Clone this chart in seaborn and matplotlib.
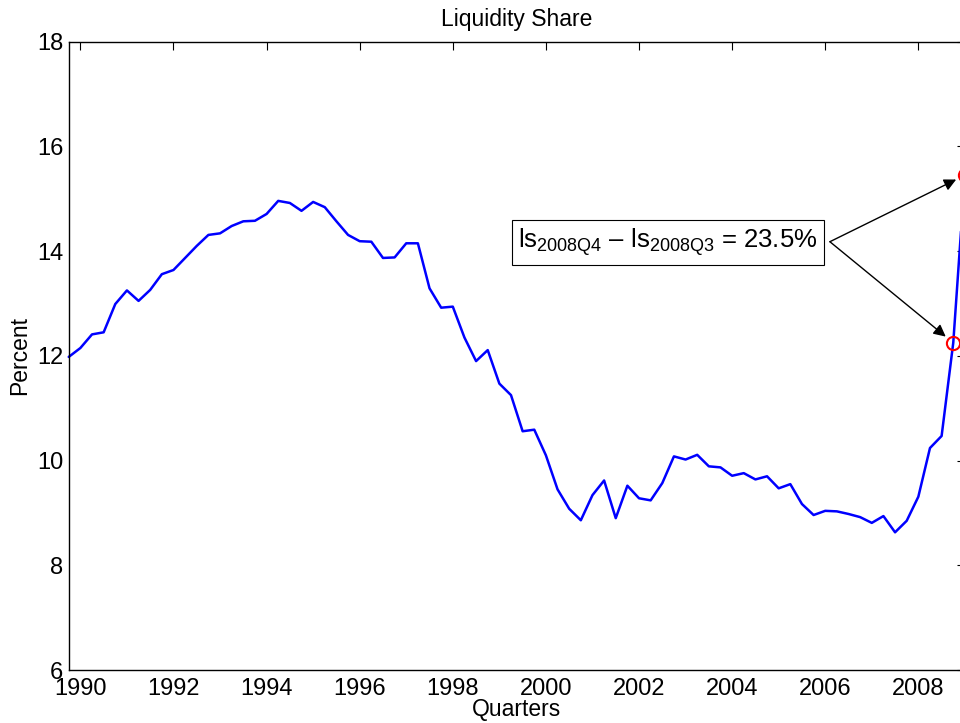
import matplotlib
matplotlib.use('Agg')
import matplotlib.pyplot as plt
import numpy as np
import seaborn as sns

# Liquidity share, quarterly from 1989Q3 to 2008Q4 (percent)
start_year = 1989.75
share = [11.98, 12.15, 12.41, 12.45, 12.99, 13.25, 13.05, 13.26, 13.56, 13.64,
         13.87, 14.10, 14.31, 14.34, 14.48, 14.57, 14.58, 14.71, 14.96, 14.92,
         14.77, 14.94, 14.84, 14.57, 14.31, 14.19, 14.18, 13.87, 13.88, 14.15,
         14.15, 13.29, 12.92, 12.94, 12.35, 11.90, 12.11, 11.47, 11.25, 10.56,
         10.59, 10.10, 9.45, 9.08, 8.86, 9.34, 9.62, 8.90, 9.52, 9.28,
         9.24, 9.57, 10.08, 10.02, 10.11, 9.89, 9.87, 9.71, 9.76, 9.64,
         9.70, 9.47, 9.55, 9.17, 8.96, 9.04, 9.03, 8.98, 8.92, 8.81,
         8.94, 8.63, 8.85, 9.31, 10.24, 10.47, 12.25, 15.45]
quarters = start_year + 0.25 * np.arange(len(share))

# the two highlighted quarters (2008Q3 and 2008Q4)
marked_x = quarters[-2:]
marked_y = share[-2:]
note = 'ls$_{\\mathregular{2008Q4}}$ \u2013 ls$_{\\mathregular{2008Q3}}$ = 23.5%'

x_ticks = np.arange(1990, 2009, 2)
y_ticks = np.arange(6, 19, 2)

sns.set_theme(style='white')
plt.rcParams['font.family'] = ['Liberation Sans', 'DejaVu Sans']
plt.rcParams['mathtext.fontset'] = 'custom'
plt.rcParams['mathtext.rm'] = 'Liberation Sans'
plt.rcParams['mathtext.it'] = 'Liberation Sans'
plt.rcParams['text.color'] = 'black'
plt.rcParams['axes.labelcolor'] = 'black'
plt.rcParams['xtick.color'] = 'black'
plt.rcParams['ytick.color'] = 'black'

fig = plt.figure(figsize=(9.6, 7.23), dpi=100)
ax = fig.add_axes([0.0716, 0.0733, 0.9335, 0.869])

sns.lineplot(x=quarters, y=share, ax=ax, color='#0000ff', linewidth=1.8, clip_on=False)
ax.plot(marked_x, marked_y, linestyle='none', marker='o', markersize=9.5,
        markerfacecolor='none', markeredgecolor='red', markeredgewidth=1.5, clip_on=False)

ax.set_xlim(start_year, 2009.0)
ax.set_ylim(6, 18)
ax.set_xticks(x_ticks)
ax.set_yticks(y_ticks)
ax.tick_params(direction='in', length=6, width=0.8, color='black',
               top=True, right=True, labelsize=17, pad=4)
ax.tick_params(axis='x', pad=6)
for s in ax.spines.values():
    s.set_color('black')
    s.set_linewidth(1.0)

ax.set_title('Liquidity Share', fontsize=16.5, pad=11)
ax.set_xlabel('Quarters', fontsize=16.5, labelpad=-2)
ax.set_ylabel('Percent', fontsize=16.5, labelpad=4)

ax.text(2002.62, 14.17, note, fontsize=18.5, ha='center', va='center',
        bbox=dict(boxstyle='square,pad=0.25', facecolor='white', edgecolor='black', linewidth=0.8))
for mx, my in zip(marked_x, marked_y):
    ax.annotate('', xy=(mx, my), xytext=(2006.1, 14.18),
                arrowprops=dict(arrowstyle='-|>', color='black', lw=1.0,
                                mutation_scale=18, shrinkA=0, shrinkB=7),
                annotation_clip=False)

fig.savefig('out.png', dpi=100)
